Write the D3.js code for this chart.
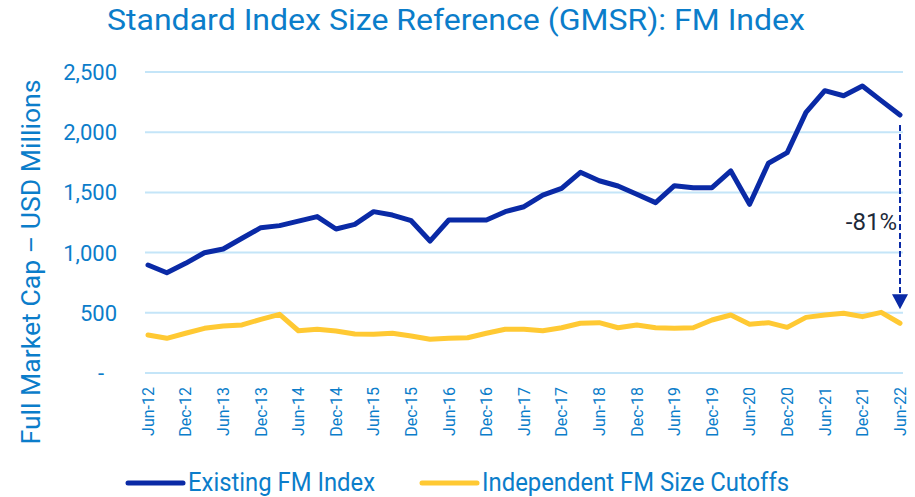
<!DOCTYPE html>
<html>
<head>
<meta charset="utf-8">
<script src="https://cdn.jsdelivr.net/npm/d3@7"></script>
<style>
  body { margin: 0; background: #fff; }
  svg { display: block; font-family: Roboto, "Noto Sans", sans-serif; }
</style>
</head>
<body>
<svg id="chart" width="915" height="497"></svg>
<script>
// quarterly dates, Jun-12 .. Jun-22
const quarters = ["Jun-12","Sep-12","Dec-12","Mar-13","Jun-13","Sep-13","Dec-13","Mar-14","Jun-14","Sep-14",
  "Dec-14","Mar-15","Jun-15","Sep-15","Dec-15","Mar-16","Jun-16","Sep-16","Dec-16","Mar-17",
  "Jun-17","Sep-17","Dec-17","Mar-18","Jun-18","Sep-18","Dec-18","Mar-19","Jun-19","Sep-19",
  "Dec-19","Mar-20","Jun-20","Sep-20","Dec-20","Mar-21","Jun-21","Sep-21","Dec-21","Mar-22","Jun-22"];

const existingFM = [897,833,911,999,1030,1119,1207,1224,1262,1299,
  1196,1235,1340,1312,1265,1096,1271,1271,1271,1340,
  1381,1478,1534,1667,1597,1553,1484,1415,1556,1539,
  1539,1678,1401,1742,1830,2165,2345,2303,2384,2262,2143];

const independentFM = [316,288,330,371,390,399,446,487,351,363,
  349,324,321,330,307,280,288,293,330,363,
  363,351,376,413,418,376,399,376,371,376,
  440,482,404,418,379,462,482,496,468,504,413];

const yTicks = [0,500,1000,1500,2000,2500];
const seriesNames = ["Existing FM Index","Independent FM Size Cutoffs"];
const dropLabel = "-81%";

const textBlue = "#0b7dca";
const lineBlue = "#0a2aa6";
const lineYellow = "#ffc933";
const gridColor = "#c4e5f8";

const svg = d3.select("#chart");

const x = d3.scalePoint().domain(quarters).range([148, 900]);
const y = d3.scaleLinear().domain([0, 2500]).range([373, 72]);

// title
svg.append("text")
  .attr("x", 456).attr("y", 30)
  .attr("text-anchor", "middle")
  .attr("font-size", 30)
  .attr("fill", textBlue)
  .attr("textLength", 698).attr("lengthAdjust", "spacingAndGlyphs")
  .text("Standard Index Size Reference (GMSR): FM Index");

// y axis title
svg.append("text")
  .attr("transform", "translate(40,262) rotate(-90)")
  .attr("text-anchor", "middle")
  .attr("font-size", 25)
  .attr("fill", textBlue)
  .attr("textLength", 365).attr("lengthAdjust", "spacingAndGlyphs")
  .text("Full Market Cap \u2013 USD Millions");

// gridlines
svg.append("g")
  .selectAll("line")
  .data(yTicks)
  .join("line")
  .attr("x1", 145).attr("x2", 903)
  .attr("y1", d => y(d)).attr("y2", d => y(d))
  .attr("stroke", gridColor)
  .attr("stroke-width", 2);

// y tick labels
svg.append("g")
  .selectAll("text")
  .data(yTicks)
  .join("text")
  .attr("x", d => d === 0 ? 104 : 117)
  .attr("y", d => y(d))
  .attr("dy", "0.36em")
  .attr("text-anchor", "end")
  .attr("font-size", 22)
  .attr("fill", textBlue)
  .text(d => d === 0 ? "-" : d3.format(",")(d));

// x tick labels, every other quarter
svg.append("g")
  .selectAll("text")
  .data(quarters.filter((d, i) => i % 2 === 0))
  .join("text")
  .attr("transform", d => `translate(${x(d)},387) rotate(-90)`)
  .attr("dy", "0.36em")
  .attr("text-anchor", "end")
  .attr("font-size", 16)
  .attr("fill", textBlue)
  .text(d => d);

const line = d3.line()
  .x((d, i) => x(quarters[i]))
  .y(d => y(d));

svg.append("path")
  .datum(independentFM)
  .attr("d", line)
  .attr("fill", "none")
  .attr("stroke", lineYellow)
  .attr("stroke-width", 5)
  .attr("stroke-linejoin", "round")
  .attr("stroke-linecap", "round");

svg.append("path")
  .datum(existingFM)
  .attr("d", line)
  .attr("fill", "none")
  .attr("stroke", lineBlue)
  .attr("stroke-width", 5)
  .attr("stroke-linejoin", "round")
  .attr("stroke-linecap", "round");

// drop arrow from last existing value to last cutoff value
const last = quarters.length - 1;
const ax = x(quarters[last]);
const yTop = y(existingFM[last]) + 10;
const yTip = y(independentFM[last]) - 14;
svg.append("line")
  .attr("x1", ax).attr("x2", ax)
  .attr("y1", yTop).attr("y2", yTip - 12)
  .attr("stroke", lineBlue)
  .attr("stroke-width", 2)
  .attr("stroke-dasharray", "6,3");
svg.append("path")
  .attr("d", `M${ax - 8},${yTip - 15} L${ax + 8},${yTip - 15} L${ax},${yTip} Z`)
  .attr("fill", lineBlue);

svg.append("text")
  .attr("x", ax - 3).attr("y", 230)
  .attr("text-anchor", "end")
  .attr("font-size", 24)
  .attr("fill", "#1d2a3a")
  .text(dropLabel);

// legend
const legend = [
  { name: seriesNames[0], color: lineBlue, x: 128, len: 187 },
  { name: seriesNames[1], color: lineYellow, x: 422, len: 307 }
];
const lg = svg.append("g").selectAll("g").data(legend).join("g");
lg.append("line")
  .attr("x1", d => d.x).attr("x2", d => d.x + 55)
  .attr("y1", 483).attr("y2", 483)
  .attr("stroke", d => d.color)
  .attr("stroke-width", 5)
  .attr("stroke-linecap", "round");
lg.append("text")
  .attr("x", d => d.x + 60).attr("y", 491)
  .attr("font-size", 25)
  .attr("fill", textBlue)
  .attr("textLength", d => d.len).attr("lengthAdjust", "spacingAndGlyphs")
  .text(d => d.name);
</script>
</body>
</html>
